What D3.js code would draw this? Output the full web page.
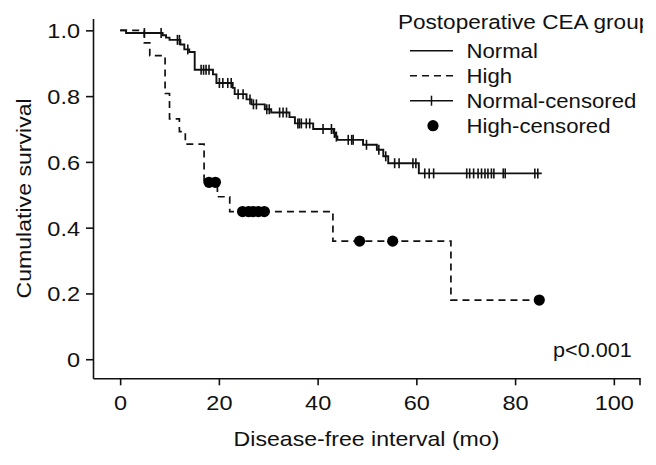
<!DOCTYPE html>
<html>
<head>
<meta charset="utf-8">
<script src="https://cdn.jsdelivr.net/npm/d3@7"></script>
<style>
  body { margin: 0; background: #fff; }
  text { font-family: "Liberation Sans", Arial, sans-serif; fill: #111; }
</style>
</head>
<body>
<script>
// Kaplan-Meier data
// Normal group: event times and survival after each step
var normalTimes = [1.2, 8.6, 9.3, 10.0, 12.2, 13.0, 14.0, 15.1, 18.8, 19.5, 22.8, 23.2, 25.6, 26.6, 29.3, 30.6, 34.3, 35.4, 39.1, 43.2, 43.6, 44.0, 49.2, 52.0, 53.3, 54.3, 60.5];
var normalSurv  = [0.992, 0.985, 0.978, 0.971, 0.957, 0.942, 0.934, 0.880, 0.866, 0.840, 0.825, 0.806, 0.790, 0.775, 0.760, 0.750, 0.736, 0.717, 0.700, 0.688, 0.677, 0.667, 0.652, 0.637, 0.617, 0.596, 0.565];
var normalCensored = [4.9, 8.3, 11.6, 12.0, 13.7, 16.4, 16.9, 17.4, 18.0, 20.1, 20.8, 21.8, 22.5, 23.9, 24.9, 26.3, 27.0, 27.6, 29.7, 30.2, 32.3, 33.0, 33.7, 36.0, 36.3, 36.7, 37.7, 38.4, 41.1, 42.8, 43.4, 43.8, 46.2, 46.9, 47.2, 49.9, 52.4, 53.8, 55.6, 56.5, 59.3, 59.9, 61.7, 62.6, 63.5, 70.2, 70.8, 71.6, 72.5, 73.2, 73.9, 74.5, 75.2, 75.7, 77.6, 78.0, 84.0, 84.6];
var normalEnd = 85.4;

// High group
var highTimes = [4.9, 6.0, 9.1, 10.0, 12.0, 13.2, 17.0, 19.7, 22.2, 43.1, 67.0];
var highSurv  = [0.962, 0.923, 0.808, 0.731, 0.692, 0.654, 0.538, 0.494, 0.449, 0.359, 0.180];
var highCensored = [18.0, 19.3, 24.8, 26.0, 26.9, 28.0, 29.2, 48.5, 55.2, 84.9];
var highEnd = 84.9;

var xTicks = [0, 20, 40, 60, 80, 100];
var yTicks = [0, 0.2, 0.4, 0.6, 0.8, 1.0];
var yTickLabels = ["0", "0.2", "0.4", "0.6", "0.8", "1.0"];
var legendLabels = ["Normal", "High", "Normal-censored", "High-censored"];

var svgWidth = 656;
var svgHeight = 465;

var margin = { top: 18.5, right: 16, bottom: 86.7, left: 93 };

var svg = d3.select("body").append("svg")
  .attr("width", svgWidth)
  .attr("height", svgHeight);

var x = d3.scaleLinear()
  .domain([-5.5, 105.3])
  .range([margin.left, svgWidth - margin.right]);

var y = d3.scaleLinear()
  .domain([-0.058, 1.036])
  .range([svgHeight - margin.bottom, margin.top]);

// the fonts in the picture are a touch wider than Liberation Sans
function stretch(sel, k) {
  sel.each(function() {
    var w = this.getComputedTextLength();
    d3.select(this).attr("textLength", w * k).attr("lengthAdjust", "spacingAndGlyphs");
  });
}

// axes
var xAxis = d3.axisBottom(x).tickValues(xTicks).tickSize(7).tickSizeOuter(0).tickPadding(10);
var gx = svg.append("g")
  .attr("transform", "translate(0," + y.range()[0] + ")")
  .call(xAxis);
gx.append("line")
  .attr("x1", x.range()[1]).attr("x2", x.range()[1])
  .attr("y1", 0).attr("y2", 7)
  .attr("stroke", "#111");

var yAxis = d3.axisLeft(y).tickValues(yTicks).tickSize(7).tickSizeOuter(0).tickPadding(6)
  .tickFormat(function(d, i) { return yTickLabels[i]; });
var gy = svg.append("g")
  .attr("transform", "translate(" + x.range()[0] + ",0)")
  .call(yAxis);

svg.selectAll(".domain, .tick line, g > line").attr("stroke", "#111").attr("stroke-width", 1.6);
svg.selectAll(".tick text")
  .style("font-size", "21px")
  .style("font-family", "Liberation Sans, Arial, sans-serif")
  .attr("fill", "#111");
gy.selectAll(".tick text").attr("dy", "0.35em");
stretch(svg.selectAll(".tick text"), 1.12);

// axis titles
var xt = svg.append("text")
  .attr("x", (x.range()[0] + x.range()[1]) / 2)
  .attr("y", 446)
  .attr("text-anchor", "middle")
  .style("font-size", "21px")
  .text("Disease-free interval (mo)");
stretch(xt, 1.1);

var yt = svg.append("text")
  .attr("transform", "translate(31," + ((y.range()[0] + y.range()[1]) / 2) + ") rotate(-90)")
  .attr("text-anchor", "middle")
  .style("font-size", "21px")
  .text("Cumulative survival");
stretch(yt, 1.1);

// step curves
function steps(times, surv, end) {
  var pts = [[0, 1]];
  times.forEach(function(t, i) { pts.push([t, surv[i]]); });
  pts.push([end, surv[surv.length - 1]]);
  return pts;
}
function survAt(times, surv, t) {
  var i = d3.bisectRight(times, t);
  return i === 0 ? 1 : surv[i - 1];
}

var line = d3.line()
  .x(function(d) { return x(d[0]); })
  .y(function(d) { return y(d[1]); })
  .curve(d3.curveStepAfter);

svg.append("path")
  .datum(steps(highTimes, highSurv, highEnd))
  .attr("d", line)
  .attr("fill", "none")
  .attr("stroke", "#111")
  .attr("stroke-width", 1.7)
  .attr("stroke-dasharray", "7,5");

svg.append("path")
  .datum(steps(normalTimes, normalSurv, normalEnd))
  .attr("d", line)
  .attr("fill", "none")
  .attr("stroke", "#111")
  .attr("stroke-width", 1.9);

// censor marks
svg.selectAll(".ncens")
  .data(normalCensored)
  .enter().append("line")
  .attr("class", "ncens")
  .attr("x1", function(d) { return x(d); })
  .attr("x2", function(d) { return x(d); })
  .attr("y1", function(d) { return y(survAt(normalTimes, normalSurv, d)) - 5; })
  .attr("y2", function(d) { return y(survAt(normalTimes, normalSurv, d)) + 5; })
  .attr("stroke", "#111")
  .attr("stroke-width", 1.6);

svg.selectAll(".hcens")
  .data(highCensored)
  .enter().append("circle")
  .attr("class", "hcens")
  .attr("cx", function(d) { return x(d); })
  .attr("cy", function(d) { return y(survAt(highTimes, highSurv, d)); })
  .attr("r", 5.6)
  .attr("fill", "#000");

// legend (its title runs off the right edge of the figure in the original)
svg.append("clipPath").attr("id", "legclip")
  .append("rect").attr("x", 0).attr("y", 0).attr("width", 643).attr("height", svgHeight);

var legend = svg.append("g").attr("transform", "translate(398,0)");
var lt = svg.append("text")
  .attr("x", 398).attr("y", 29.3)
  .attr("clip-path", "url(#legclip)")
  .style("font-size", "20.5px")
  .text("Postoperative CEA group");
stretch(lt, 1.1);

var rows = legend.selectAll(".row")
  .data(legendLabels)
  .enter().append("g")
  .attr("class", "row")
  .attr("transform", function(d, i) { return "translate(0," + (50.7 + i * 25) + ")"; });

rows.append("text")
  .attr("x", 68.5).attr("y", 7)
  .style("font-size", "20.5px")
  .text(function(d) { return d; })
  .each(function() { stretch(d3.select(this), 1.08); });

rows.filter(function(d, i) { return i !== 3; })
  .append("line")
  .attr("x1", 12).attr("x2", 55)
  .attr("y1", 0).attr("y2", 0)
  .attr("stroke", "#111")
  .attr("stroke-width", 1.6)
  .attr("stroke-dasharray", function(d, i) { return i === 1 ? "7,5" : null; });

rows.filter(function(d, i) { return i === 2; })
  .append("line")
  .attr("x1", 33.5).attr("x2", 33.5)
  .attr("y1", -5).attr("y2", 5)
  .attr("stroke", "#111")
  .attr("stroke-width", 1.5);

rows.filter(function(d, i) { return i === 3; })
  .append("circle")
  .attr("cx", 35).attr("cy", 0).attr("r", 5.6)
  .attr("fill", "#000");

// p value
var pv = svg.append("text")
  .attr("x", 553).attr("y", 356.7)
  .style("font-size", "20px")
  .text("p<0.001");
stretch(pv, 1.08);
</script>
</body>
</html>
